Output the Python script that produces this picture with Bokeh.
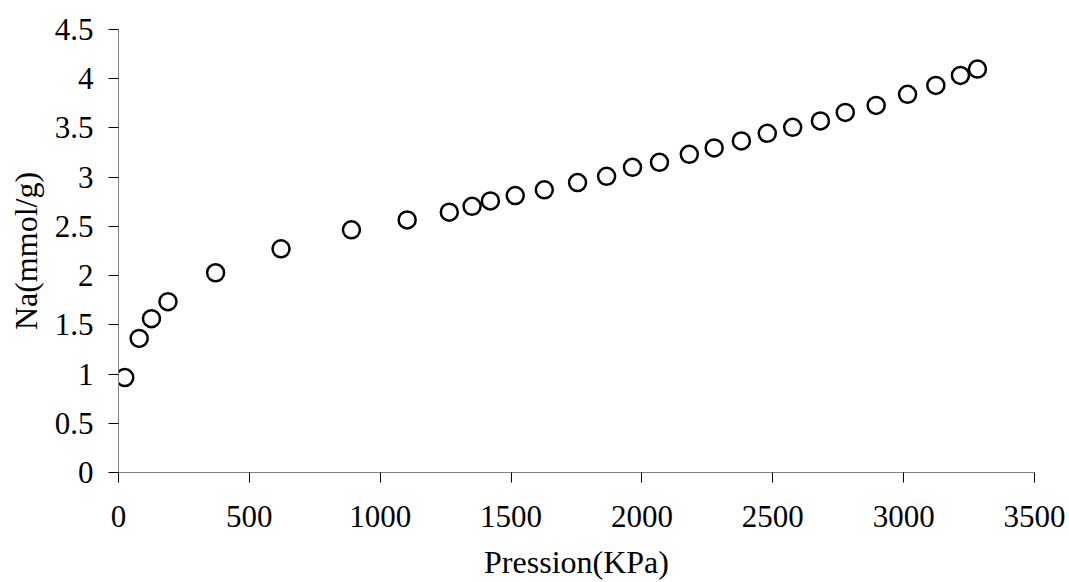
from bokeh.plotting import figure
from bokeh.models import Range1d, FixedTicker, ColumnDataSource
from bokeh.embed import file_html
from bokeh.resources import INLINE

pression = [24, 79, 126, 189, 371, 621, 890, 1103, 1264, 1351, 1421, 1516, 1627, 1754,
            1865, 1964, 2067, 2181, 2276, 2380, 2479, 2576, 2682, 2777, 2895, 3015,
            3123, 3217, 3282]
na = [0.964, 1.362, 1.562, 1.735, 2.029, 2.272, 2.465, 2.566, 2.644, 2.704, 2.759,
      2.813, 2.871, 2.945, 3.009, 3.100, 3.151, 3.232, 3.297, 3.368, 3.445, 3.506,
      3.571, 3.658, 3.729, 3.841, 3.932, 4.033, 4.098]

x_ticks = [0, 500, 1000, 1500, 2000, 2500, 3000, 3500]
y_ticks = [0, 0.5, 1, 1.5, 2, 2.5, 3, 3.5, 4, 4.5]
y_tick_labels = ["0", "0.5", "1", "1.5", "2", "2.5", "3", "3.5", "4", "4.5"]

FONT = "Liberation Serif"

p = figure(width=1069, height=582, output_backend="svg", toolbar_location=None,
           x_range=Range1d(0, 3500), y_range=Range1d(0, 4.5),
           min_border_left=118, min_border_right=35, min_border_top=29,
           min_border_bottom=110)
p.outline_line_color = None
p.grid.grid_line_color = None
p.background_fill_color = "white"
p.border_fill_color = "white"

src = ColumnDataSource(dict(x=pression, y=na))
p.scatter("x", "y", source=src, marker="circle", size=17,
          fill_color="white", line_color="black", line_width=2.5)

p.xaxis.ticker = FixedTicker(ticks=x_ticks)
p.yaxis.ticker = FixedTicker(ticks=y_ticks)
p.yaxis.major_label_overrides = {t: l for t, l in zip(y_ticks, y_tick_labels)}

for ax in (p.xaxis, p.yaxis):
    ax.axis_line_color = "#808080"
    ax.axis_line_width = 1
    ax.major_tick_line_color = "black"
    ax.major_tick_in = 0
    ax.major_tick_out = 10
    ax.minor_tick_line_color = None
    ax.major_label_text_font = FONT
    ax.major_label_text_font_size = "31px"
    ax.major_label_text_color = "black"
    ax.axis_label_text_font = FONT
    ax.axis_label_text_font_size = "32px"
    ax.axis_label_text_font_style = "normal"
    ax.axis_label_text_color = "black"

p.xaxis.axis_label = "Pression(KPa)"
p.yaxis.axis_label = "Na(mmol/g)"
p.xaxis.major_label_standoff = 23
p.yaxis.major_label_standoff = 15
p.xaxis.axis_label_standoff = 14
p.yaxis.axis_label_standoff = 8

open("out.html", "w").write(file_html(p, INLINE))
